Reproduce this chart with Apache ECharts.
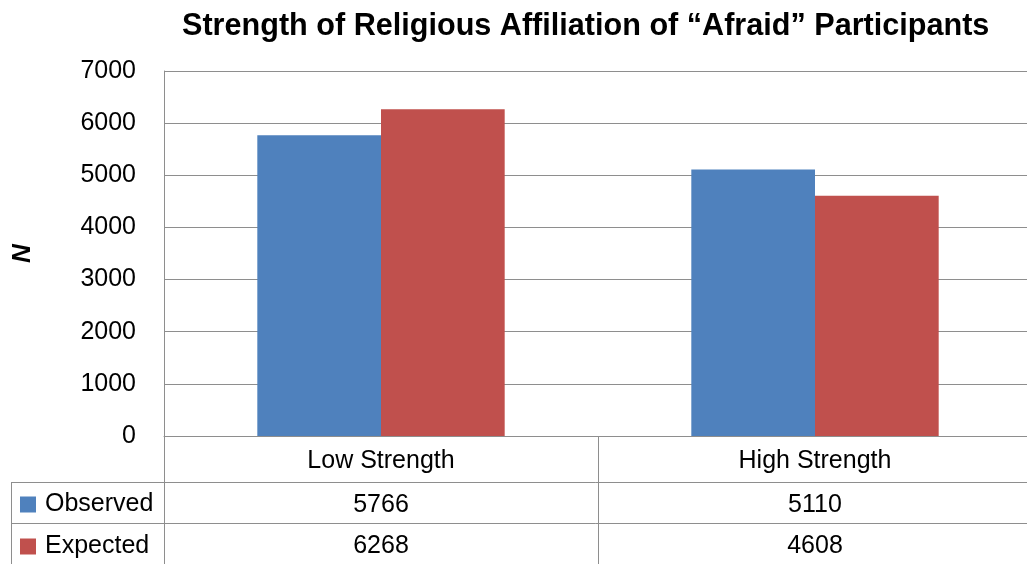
<!DOCTYPE html>
<html>
<head>
<meta charset="utf-8">
<script src="https://cdn.jsdelivr.net/npm/echarts@6/dist/echarts.min.js"></script>
<style>
  html, body { margin: 0; padding: 0; background: #fff; }
  #chart { width: 1027px; height: 564px; }
</style>
</head>
<body>
<div id="chart"></div>
<script>
// 数据
const categories = ['Low Strength', 'High Strength'];
const observed = [5766, 5110];
const expected = [6268, 4608];
const seriesNames = ['Observed', 'Expected'];
const yTicks = { min: 0, max: 7000, interval: 1000 };

const font = "'Liberation Sans', sans-serif";
const lineColor = '#8e8e8e';
const colors = ['#4f81bd', '#c0504d'];

let myChart = echarts.init(document.getElementById('chart'));

// 表格的行 (数值作为额外的 x 轴标签)
const tableAxis = (values, offset) => ({
  type: 'category',
  position: 'bottom',
  data: categories,
  offset: offset,
  axisLine: { show: true, lineStyle: { color: lineColor, width: 1 } },
  axisTick: { show: false },
  axisLabel: {
    margin: 11,
    fontSize: 25,
    fontFamily: font,
    color: '#000',
    formatter: (v, i) => String(values[i])
  }
});

// 图例：每行一个
const legendRow = (name, top) => ({
  orient: 'vertical',
  left: 20,
  top: top,
  padding: 0,
  itemWidth: 16,
  itemHeight: 16,
  itemGap: 0,
  icon: 'rect',
  data: [name],
  textStyle: { fontSize: 25, fontFamily: font, color: '#000', padding: [0, 0, 0, 4] }
});

myChart.setOption({
  color: colors,
  animation: false,
  title: {
    text: 'Strength of Religious Affiliation of “Afraid” Participants',
    left: 177,
    top: 6,
    textStyle: { fontSize: 30.6, fontWeight: 'bold', fontFamily: font, color: '#000' }
  },
  legend: [
    legendRow(seriesNames[0], 492),
    legendRow(seriesNames[1], 534)
  ],
  grid: { left: 164, right: -5, top: 71, bottom: 128, outerBoundsMode: 'none' },
  xAxis: [
    {
      type: 'category',
      position: 'bottom',
      data: categories,
      axisLine: { show: true, lineStyle: { color: lineColor, width: 1 } },
      axisTick: { show: true, length: 130, lineStyle: { color: lineColor, width: 1 } },
      axisLabel: { margin: 13, fontSize: 25, fontFamily: font, color: '#000' }
    },
    tableAxis(observed, 46),
    tableAxis(expected, 87)
  ],
  yAxis: {
    type: 'value',
    min: yTicks.min,
    max: yTicks.max,
    interval: yTicks.interval,
    name: 'N',
    nameLocation: 'middle',
    nameGap: 128,
    nameTextStyle: { fontSize: 26, fontWeight: 'bold', fontStyle: 'italic', fontFamily: font, color: '#000' },
    axisLine: { show: true, lineStyle: { color: lineColor, width: 1 } },
    axisTick: { show: false },
    axisLabel: { margin: 28, fontSize: 25, fontFamily: font, color: '#000', formatter: v => String(v) },
    splitLine: { lineStyle: { color: lineColor, width: 1 } }
  },
  series: [
    { name: seriesNames[0], type: 'bar', data: observed, barGap: '0%', barCategoryGap: '43%' },
    { name: seriesNames[1], type: 'bar', data: expected, barGap: '0%', barCategoryGap: '43%' }
  ],
  graphic: [
    // 左侧图例列的边框
    { type: 'line', shape: { x1: 11, y1: 482.5, x2: 164, y2: 482.5 }, style: { stroke: lineColor, lineWidth: 1 } },
    { type: 'line', shape: { x1: 11, y1: 523.5, x2: 164, y2: 523.5 }, style: { stroke: lineColor, lineWidth: 1 } },
    { type: 'line', shape: { x1: 11.5, y1: 482, x2: 11.5, y2: 564 }, style: { stroke: lineColor, lineWidth: 1 } }
  ]
});
</script>
</body>
</html>
